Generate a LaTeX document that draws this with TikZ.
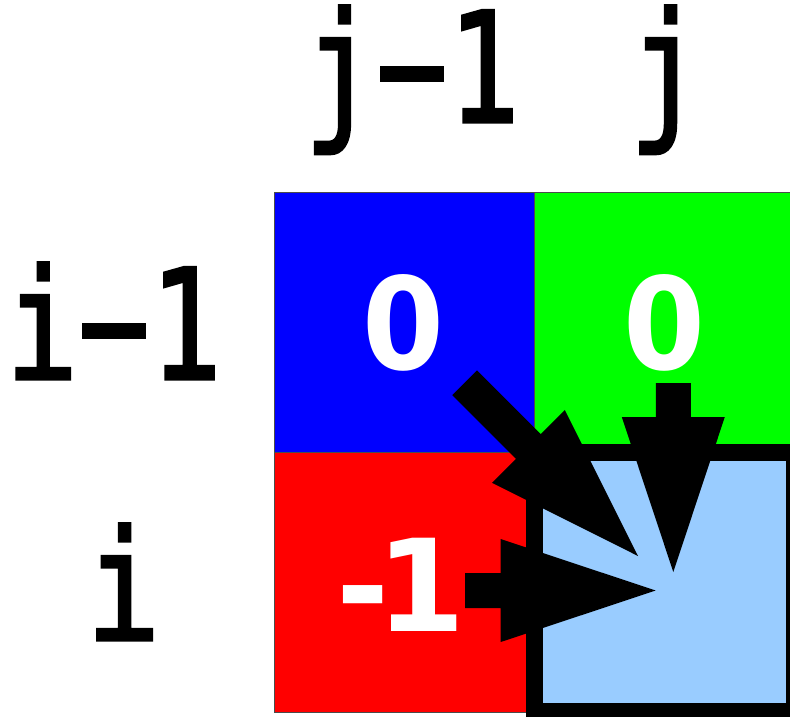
\documentclass[tikz,border=0pt]{standalone}
\usepackage{fontspec}
\usetikzlibrary{calc}
\newfontfamily\labelfont[FakeBold=2]{DejaVu Sans Mono}
\newfontfamily\numfont{DejaVu Sans}
\definecolor{cellblue}{RGB}{0,0,255}
\definecolor{cellgreen}{RGB}{0,255,0}
\definecolor{cellred}{RGB}{255,0,0}
\definecolor{celltarget}{RGB}{153,204,255}
\tikzset{
  cell/.style={draw=black!70, line width=1pt},
  target/.style={draw=black, fill=celltarget, line width=17pt},
  axislabel/.style={anchor=base, inner sep=0pt, font=\labelfont\fontsize{153}{160}\selectfont},
  cellvalue/.style={anchor=base, inner sep=0pt, text=white, font=\numfont\bfseries\fontsize{128}{130}\selectfont},
  blockarrow/.style={fill=black}
}
\newcommand\blockarr[2]{% tail, tip
  \fill[blockarrow]
    (#2)
    -- ($($(#2)!155pt!(#1)$)!51.5pt!90:(#2)$)
    -- ($($(#2)!155pt!(#1)$)!17.5pt!90:(#2)$)
    -- ($(#1)!17.5pt!90:(#2)$)
    -- ($(#1)!17.5pt!-90:(#2)$)
    -- ($($(#2)!155pt!(#1)$)!17.5pt!-90:(#2)$)
    -- ($($(#2)!155pt!(#1)$)!51.5pt!-90:(#2)$)
    -- cycle;}
\begin{document}
\begin{tikzpicture}[x=1pt, y=-1pt]
\useasboundingbox (0,0) rectangle (790,716);
% cells
\fill[cellblue] (274,192) rectangle (534,452);
\fill[cellgreen] (534,192) rectangle (794,452);
\fill[cellred] (274,452) rectangle (534,712);
\draw[cell] (274,192) rectangle (534,452);
\draw[cell] (534,192) rectangle (794,452);
\draw[cell] (274,452) rectangle (534,712);
\draw[target] (534.5,452) rectangle (794.5,711.5);
% labels
\node[axislabel] (lj1) at (412,122) {\scalebox{0.78}[1]{j−1}};
\node[axislabel] (lj) at (666,122) {\scalebox{0.8}[1]{j}};
\node[axislabel] (li1) at (114,379) {\scalebox{0.78}[1]{i−1}};
\node[axislabel] (li) at (123.5,640) {\scalebox{0.8}[1]{i}};
% values
\node[cellvalue] (vdiag) at (403,369) {\scalebox{0.92}[1]{0}};
\node[cellvalue] (vup) at (664.5,369) {\scalebox{0.92}[1]{0}};
\node[cellvalue] (vleft) at (401,631) {-\kern-14pt1};
% arrows
\coordinate (dtail) at (464.7,382.7);
\coordinate (dtip) at (638,556);
\coordinate (utail) at (673.3,383);
\coordinate (utip) at (673.3,572);
\coordinate (ltail) at (465,590.5);
\coordinate (ltip) at (655.7,590.5);
\blockarr{dtail}{dtip}
\blockarr{utail}{utip}
\blockarr{ltail}{ltip}
\end{tikzpicture}
\end{document}
